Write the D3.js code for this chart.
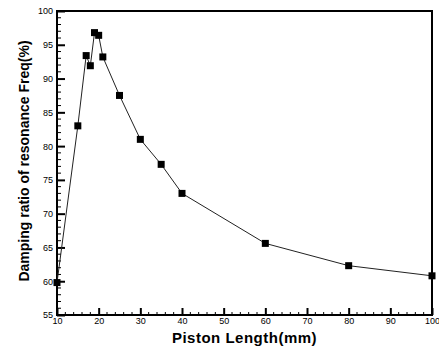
<!DOCTYPE html>
<html lang="en">
<head>
    <meta charset="UTF-8">
    <title>Damping ratio vs Piston Length</title>
    <style>
        body { margin: 0; background: #fff; }
        svg text { font-family: 'Liberation Sans', Arial, sans-serif; }
    </style>
    <script src="https://d3js.org/d3.v7.min.js"></script>
</head>
<body>
    <svg id="graph" width="439" height="347"></svg>
    <script>
        // values
        let pistonLength = [10, 15, 17, 18, 19, 20, 21, 25, 30, 35, 40, 60, 80, 100];
        let dampingRatio = [59.8, 83.0, 93.4, 91.9, 96.8, 96.4, 93.2, 87.5, 81.0, 77.3, 73.0, 65.6, 62.3, 60.8];
        let xTicks = [10, 20, 30, 40, 50, 60, 70, 80, 90, 100];
        let yTicks = [55, 60, 65, 70, 75, 80, 85, 90, 95, 100];

        let margin = {top: 11, right: 7, bottom: 32, left: 57},
            width = 439 - margin.left - margin.right,
            height = 347 - margin.top - margin.bottom;

        let svg = d3.select("#graph")
            .append("g")
            .attr("transform", "translate(" + margin.left + "," + margin.top + ")");

        let x = d3.scaleLinear().domain([10, 100]).range([0, width]);
        let y = d3.scaleLinear().domain([55, 100]).range([height, 0]);

        // minor ticks (inside)
        let xMinor = d3.range(10, 100.1, 2).filter(v => v % 10 !== 0);
        let yMinor = d3.range(55, 100.1, 1).filter(v => v % 5 !== 0);

        svg.append("g").selectAll("line").data(xMinor).join("line")
            .attr("x1", d => x(d)).attr("x2", d => x(d))
            .attr("y1", height).attr("y2", height - 3)
            .attr("stroke", "#000").attr("stroke-width", 1);
        svg.append("g").selectAll("line").data(yMinor).join("line")
            .attr("x1", 0).attr("x2", 4)
            .attr("y1", d => y(d)).attr("y2", d => y(d))
            .attr("stroke", "#000").attr("stroke-width", 1);

        let xAxis = svg.append("g")
            .attr("transform", "translate(0," + height + ")")
            .call(d3.axisBottom(x).tickValues(xTicks).tickSize(-7).tickPadding(3).tickFormat(d3.format("d")));
        let yAxis = svg.append("g")
            .call(d3.axisLeft(y).tickValues(yTicks).tickSize(-8).tickPadding(4).tickFormat(d3.format("d")));

        [xAxis, yAxis].forEach(function(a) {
            a.select(".domain").remove();
            a.selectAll(".tick line").attr("stroke", "#000").attr("stroke-width", 2);
            a.selectAll(".tick text")
                .attr("fill", "#000")
                .style("font-size", "9px");
        });

        // frame
        svg.append("rect")
            .attr("x", 0).attr("y", 0)
            .attr("width", width).attr("height", height)
            .attr("fill", "none")
            .attr("stroke", "#000")
            .attr("stroke-width", 2);

        let points = pistonLength.map((v, i) => ({len: v, ratio: dampingRatio[i]}));

        svg.append("path")
            .datum(points)
            .attr("fill", "none")
            .attr("stroke", "#222")
            .attr("stroke-width", 1)
            .attr("d", d3.line().x(d => x(d.len)).y(d => y(d.ratio)));

        svg.selectAll(".pt")
            .data(points)
            .join("rect")
            .attr("class", "pt")
            .attr("x", d => x(d.len) - 3.5)
            .attr("y", d => y(d.ratio) - 3.5)
            .attr("width", 7)
            .attr("height", 7)
            .attr("fill", "#000");

        svg.append("text")
            .attr("x", width / 2)
            .attr("y", height + 28)
            .style("text-anchor", "middle")
            .style("font-size", "15px")
            .style("font-weight", "bold")
            .style("letter-spacing", "0.5px")
            .text("Piston Length(mm)");

        svg.append("text")
            .attr("transform", "translate(" + (-28) + "," + (height / 2 - 2) + ") rotate(-90)")
            .style("text-anchor", "middle")
            .style("font-size", "14px")
            .style("font-weight", "bold")
            .text("Damping ratio of resonance Freq(%)");
    </script>
</body>
</html>
